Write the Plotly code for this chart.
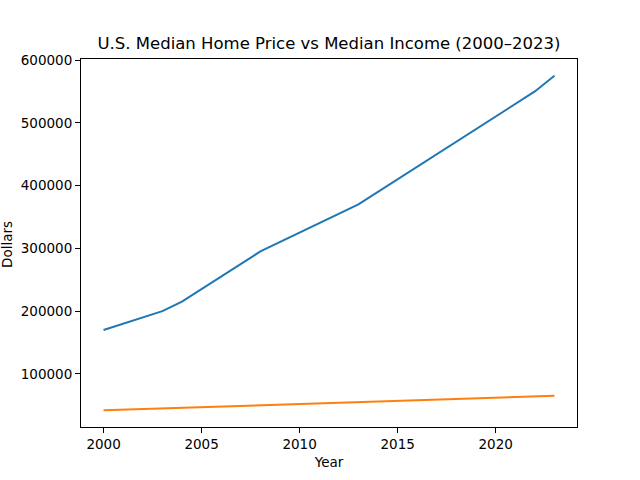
import plotly.graph_objects as go

home_years = [2000, 2003, 2004, 2008, 2013, 2022, 2023]
home_price = [170000, 200000, 215000, 295000, 370000, 550000, 575000]
income_years = [2000, 2023]
median_income = [42000, 65000]
x_ticks = [2000, 2005, 2010, 2015, 2020]
y_ticks = [100000, 200000, 300000, 400000, 500000, 600000]

ymin = min(median_income + home_price)
ymax = max(median_income + home_price)
ypad = 0.05 * (ymax - ymin)
xpad = 0.05 * (max(home_years) - min(home_years))

fig = go.Figure()
fig.add_trace(go.Scatter(x=home_years, y=home_price, mode="lines",
                         line=dict(color="#1f77b4", width=2), name="Median Home Price"))
fig.add_trace(go.Scatter(x=income_years, y=median_income, mode="lines",
                         line=dict(color="#ff7f0e", width=2), name="Median Income"))

axis_common = dict(showline=True, linecolor="black", linewidth=1, mirror=True,
                   ticks="outside", ticklen=5, tickcolor="black", showgrid=False,
                   zeroline=False, automargin=False, tickfont=dict(size=13.5, color="black"))

L, R, T, B = 81, 63, 59, 53
plot_w = 640 - L - R
plot_h = 480 - T - B

fig.update_layout(
    width=640, height=480,
    margin=dict(l=L, r=R, t=T, b=B),
    paper_bgcolor="white", plot_bgcolor="white",
    font=dict(family="DejaVu Sans", color="black"),
    showlegend=False,
    title=dict(text="U.S. Median Home Price vs Median Income (2000–2023)",
               x=0.5, xanchor="center", xref="paper", y=1 - 43 / 480, yanchor="middle",
               font=dict(size=16.5, color="black")),
    xaxis=dict(range=[min(home_years) - xpad, max(home_years) + xpad],
               tickvals=x_ticks, title=dict(text="Year", font=dict(size=13.5), standoff=6),
               **axis_common),
    yaxis=dict(range=[ymin - ypad, ymax + ypad], tickvals=y_ticks, tickformat="d",
               **axis_common),
    annotations=[dict(text="Dollars", textangle=-90, xref="paper", yref="paper",
                      x=(7 - L) / plot_w, y=(480 - B - 245) / plot_h,
                      xanchor="center", yanchor="middle",
                      showarrow=False, font=dict(size=13.5, color="black"))],
)

fig.write_html("out.html", config={"displayModeBar": False},
               post_script="document.body.style.margin='0';")
